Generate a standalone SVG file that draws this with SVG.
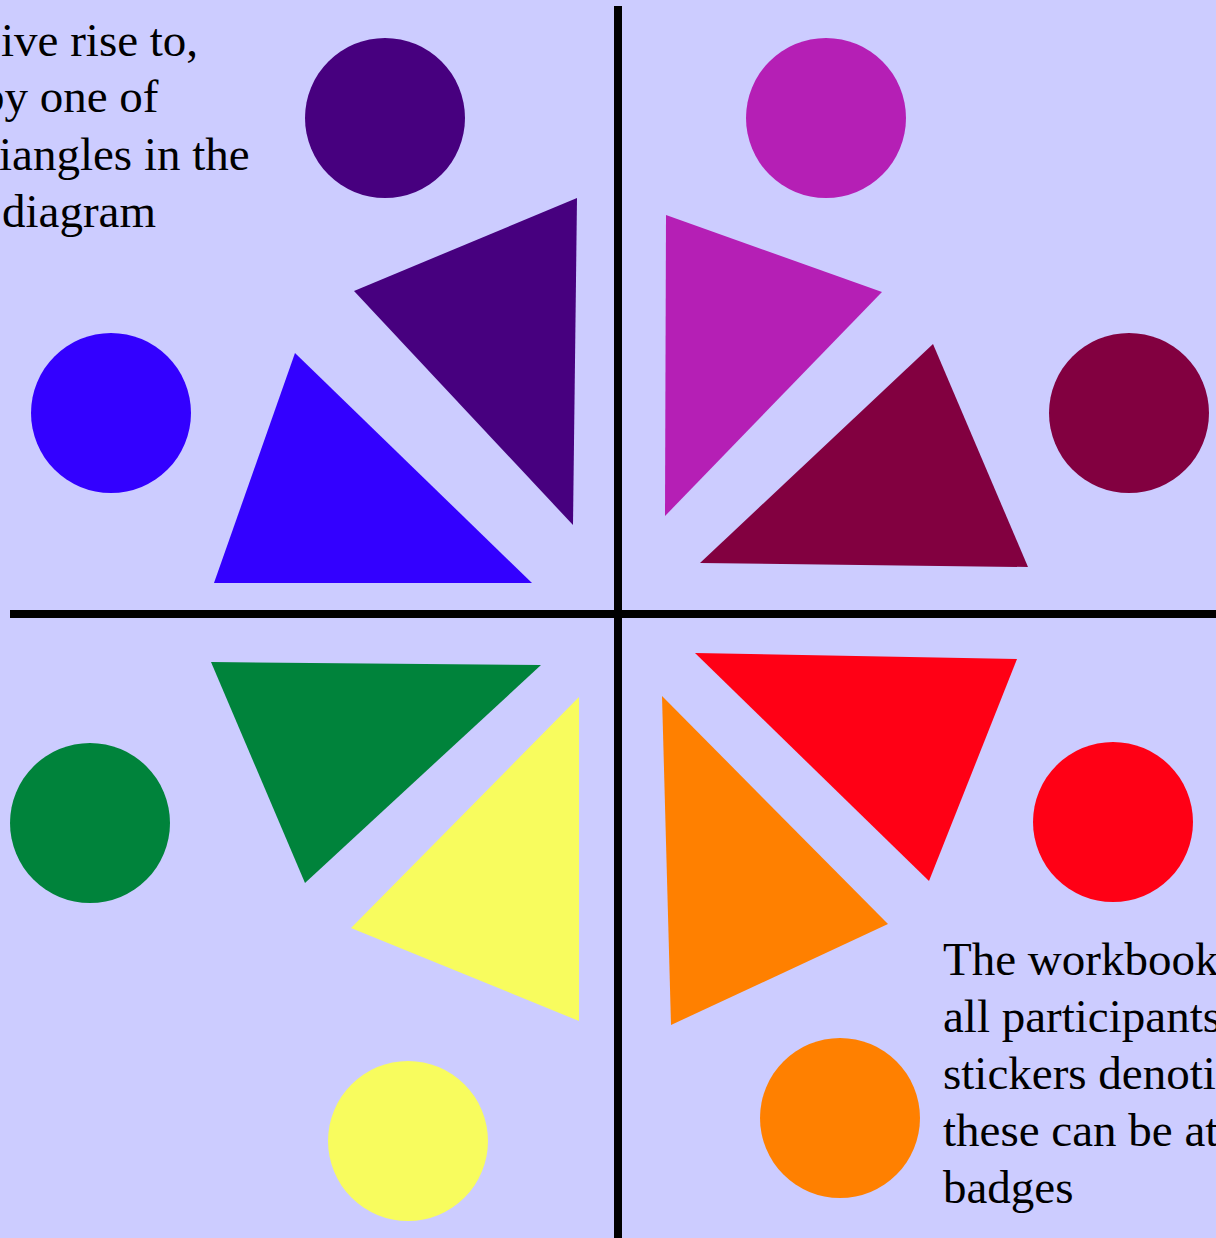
<svg xmlns="http://www.w3.org/2000/svg" width="1216" height="1238" viewBox="0 0 1216 1238">
<style>
text{font-family:"Liberation Serif","Times New Roman",serif;font-size:47px;fill:#000}
.purple{fill:#47007F}.blue{fill:#3300FF}.magenta{fill:#B51FB5}.maroon{fill:#820040}
.green{fill:#00833B}.yellow{fill:#F8FC5E}.red{fill:#FF0015}.orange{fill:#FF8000}
</style>
<rect width="1216" height="1238" fill="#CCCCFF"/>
<g id="connectors" fill="#000">
<rect x="614" y="6" width="8" height="1232"/>
<rect x="10" y="610" width="1206" height="8"/>
</g>
<g id="purple-circle"><circle class="purple" cx="385" cy="118" r="80"/></g>
<g id="purple-triangle"><polygon class="purple" points="577,198 354,291 573,525"/></g>
<g id="blue-circle"><circle class="blue" cx="111" cy="413" r="80"/></g>
<g id="blue-triangle"><polygon class="blue" points="295,353 532,583 214,583"/></g>
<g id="magenta-circle"><circle class="magenta" cx="826" cy="118" r="80"/></g>
<g id="magenta-triangle"><polygon class="magenta" points="666,215 882,292 665,516"/></g>
<g id="maroon-circle"><circle class="maroon" cx="1129" cy="413" r="80"/></g>
<g id="maroon-triangle"><polygon class="maroon" points="933,344 1028,567 700,563"/></g>
<g id="green-circle"><circle class="green" cx="90" cy="823" r="80"/></g>
<g id="green-triangle"><polygon class="green" points="211,662 541,665 305,883"/></g>
<g id="yellow-circle"><circle class="yellow" cx="408" cy="1141" r="80"/></g>
<g id="yellow-triangle"><polygon class="yellow" points="579,697 579,1021 351,928"/></g>
<g id="red-circle"><circle class="red" cx="1113" cy="822" r="80"/></g>
<g id="red-triangle"><polygon class="red" points="695,653 1017,659 929,881"/></g>
<g id="orange-circle"><circle class="orange" cx="840" cy="1118" r="80"/></g>
<g id="orange-triangle"><polygon class="orange" points="662,696 888,924 671,1025"/></g>
<g id="text-top-left">
<text x="1" y="56">ive rise to,</text>
<text x="-19" y="112">by one of</text>
<text x="-1" y="170">iangles in the</text>
<text x="2" y="227">diagram</text>
</g>
<g id="text-bottom-right">
<text x="943" y="975">The workbook</text>
<text x="943" y="1032">all participants</text>
<text x="943" y="1089">stickers denoti</text>
<text x="943" y="1146">these can be at</text>
<text x="943" y="1203">badges</text>
</g>
</svg>
